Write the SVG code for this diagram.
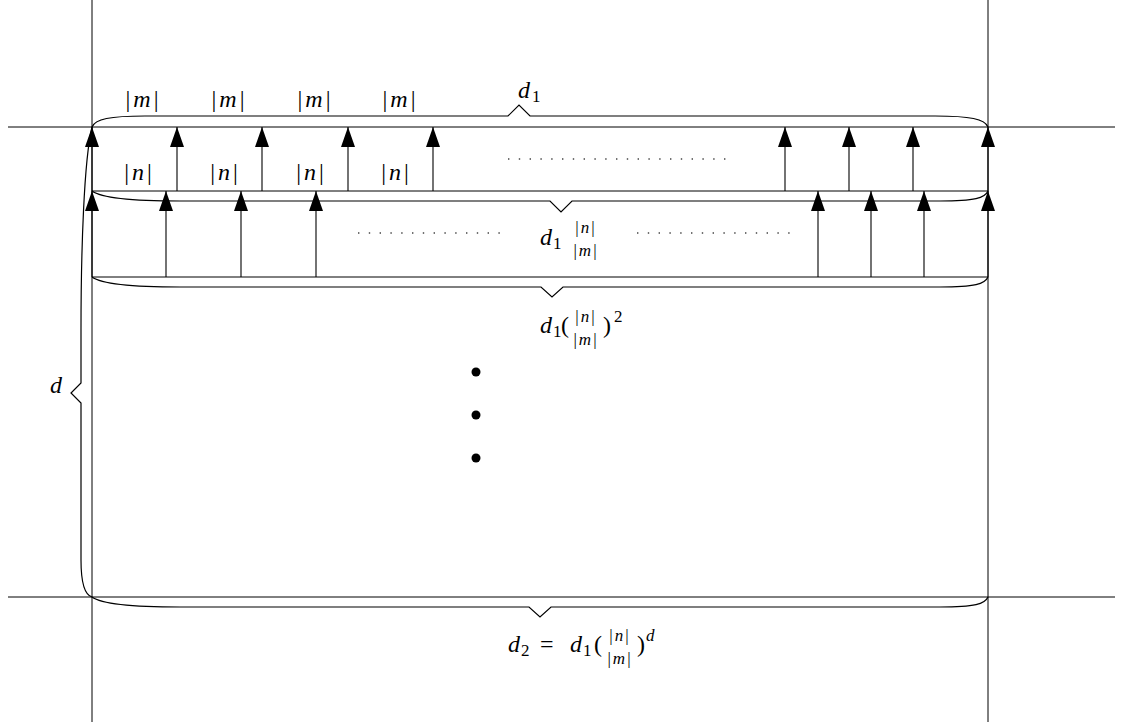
<svg xmlns="http://www.w3.org/2000/svg" width="1121" height="728" viewBox="0 0 1121 728">
<style>
.ln{stroke:#000;stroke-width:1;fill:none}
.br{stroke:#000;stroke-width:1.2;fill:none;stroke-linejoin:miter}
.ar{stroke:#000;stroke-width:1.1;fill:none;marker-end:url(#ah)}
.dt{stroke:#444;stroke-width:1.3;fill:none;stroke-dasharray:1.4 9.4}
text{font-family:"Liberation Serif","Times New Roman",serif;fill:#000}
.it{font-style:italic}
.m{font-size:24px}
.s{font-size:17px}
.f{font-size:17px}
</style>
<defs>
<marker id="ah" markerUnits="userSpaceOnUse" viewBox="0 0 20 14" markerWidth="20" markerHeight="14" refX="20" refY="7" orient="auto">
<path d="M0,0 L20,7 L0,14 z" fill="#000"/>
</marker>
</defs>
<rect width="1121" height="728" fill="#fff"/>
<g id="frame">
<line class="ln" x1="92" y1="0" x2="92" y2="722"/>
<line class="ln" x1="988" y1="0" x2="988" y2="722"/>
<line class="ln" x1="8" y1="127" x2="1115" y2="127"/>
<line class="ln" x1="8" y1="597" x2="1115" y2="597"/>
<line class="ln" x1="92" y1="191" x2="988" y2="191"/>
<line class="ln" x1="92" y1="277" x2="988" y2="277"/>
</g>
<g id="connectors">
<line class="ar" x1="92" y1="191" x2="92" y2="127"/>
<line class="ar" x1="177" y1="191" x2="177" y2="127"/>
<line class="ar" x1="262" y1="191" x2="262" y2="127"/>
<line class="ar" x1="348" y1="191" x2="348" y2="127"/>
<line class="ar" x1="433" y1="191" x2="433" y2="127"/>
<line class="ar" x1="785" y1="191" x2="785" y2="127"/>
<line class="ar" x1="849" y1="191" x2="849" y2="127"/>
<line class="ar" x1="913" y1="191" x2="913" y2="127"/>
<line class="ar" x1="988" y1="191" x2="988" y2="127"/>
<line class="ar" x1="92" y1="277" x2="92" y2="191"/>
<line class="ar" x1="166" y1="277" x2="166" y2="191"/>
<line class="ar" x1="241" y1="277" x2="241" y2="191"/>
<line class="ar" x1="316" y1="277" x2="316" y2="191"/>
<line class="ar" x1="818" y1="277" x2="818" y2="191"/>
<line class="ar" x1="871" y1="277" x2="871" y2="191"/>
<line class="ar" x1="924" y1="277" x2="924" y2="191"/>
<line class="ar" x1="988" y1="277" x2="988" y2="191"/>
</g>
<g id="braces">
<path class="br" d="M92,127 C95,119 110,116 145,116 L508,116 L519,105 L530,116 L935,116 C970,116 985,119 988,127"/>
<path class="br" d="M92,191 C100,197 130,201 180,201 L550,201 L561,212 L572,201 L940,201 C975,201 985,198 988,191"/>
<path class="br" d="M92,277 C100,283 130,287 180,287 L541,287 L552,297 L563,287 L940,287 C975,287 985,284 988,277"/>
<path class="br" d="M92,597 C100,603 130,607 180,607 L529,607 L540,617 L551,607 L940,607 C975,607 985,604 988,597"/>
<path class="br" d="M92,127 C84,160 81,250 81,330 L81,383 L71,393 L81,403 L81,560 C81,585 85,595 92,597"/>
</g>
<g id="dots">
<line class="dt" x1="508" y1="159" x2="727" y2="159"/>
<line class="dt" x1="358" y1="233" x2="502" y2="233"/>
<line class="dt" x1="637" y1="233" x2="790" y2="233"/>
<circle cx="476" cy="372" r="4.5" fill="#000"/>
<circle cx="476" cy="415" r="4.5" fill="#000"/>
<circle cx="476" cy="458" r="4.5" fill="#000"/>
</g>
<g id="labels-m" class="m">
<text x="142" y="107" text-anchor="middle">|<tspan class="it" dx="3">m</tspan><tspan dx="3">|</tspan></text>
<text x="228" y="107" text-anchor="middle">|<tspan class="it" dx="3">m</tspan><tspan dx="3">|</tspan></text>
<text x="314" y="107" text-anchor="middle">|<tspan class="it" dx="3">m</tspan><tspan dx="3">|</tspan></text>
<text x="399" y="107" text-anchor="middle">|<tspan class="it" dx="3">m</tspan><tspan dx="3">|</tspan></text>
</g>
<g id="labels-n" class="m">
<text x="138" y="180" text-anchor="middle">|<tspan class="it" dx="3">n</tspan><tspan dx="3">|</tspan></text>
<text x="224" y="180" text-anchor="middle">|<tspan class="it" dx="3">n</tspan><tspan dx="3">|</tspan></text>
<text x="310" y="180" text-anchor="middle">|<tspan class="it" dx="3">n</tspan><tspan dx="3">|</tspan></text>
<text x="395" y="180" text-anchor="middle">|<tspan class="it" dx="3">n</tspan><tspan dx="3">|</tspan></text>
</g>
<g id="label-d1">
<text x="518" y="98" class="m it">d</text>
<text x="532" y="102" class="s">1</text>
</g>
<g id="label-d">
<text x="50" y="393" class="m it">d</text>
</g>
<g id="label-row2">
<text x="540" y="245" class="m it">d</text>
<text x="553" y="249" class="s">1</text>
<text x="585" y="233" class="f" text-anchor="middle">|<tspan class="it" dx="2">n</tspan><tspan dx="2">|</tspan></text>
<text x="585" y="256" class="f" text-anchor="middle">|<tspan class="it" dx="2">m</tspan><tspan dx="2">|</tspan></text>
</g>
<g id="label-row3">
<text x="540" y="333" class="m it">d</text>
<text x="553" y="337" class="s">1</text>
<text x="561" y="333" class="m">(</text>
<text x="585" y="322" class="f" text-anchor="middle">|<tspan class="it" dx="2">n</tspan><tspan dx="2">|</tspan></text>
<text x="585" y="345" class="f" text-anchor="middle">|<tspan class="it" dx="2">m</tspan><tspan dx="2">|</tspan></text>
<text x="603" y="333" class="m">)</text>
<text x="614" y="322" class="s">2</text>
</g>
<g id="label-bottom">
<text x="508" y="652" class="m it">d</text>
<text x="521" y="656" class="s">2</text>
<text x="540" y="652" class="m">=</text>
<text x="570" y="652" class="m it">d</text>
<text x="583" y="656" class="s">1</text>
<text x="594" y="652" class="m">(</text>
<text x="619" y="641" class="f" text-anchor="middle">|<tspan class="it" dx="2">n</tspan><tspan dx="2">|</tspan></text>
<text x="619" y="664" class="f" text-anchor="middle">|<tspan class="it" dx="2">m</tspan><tspan dx="2">|</tspan></text>
<text x="637" y="652" class="m">)</text>
<text x="646" y="641" class="s it">d</text>
</g>
</svg>
